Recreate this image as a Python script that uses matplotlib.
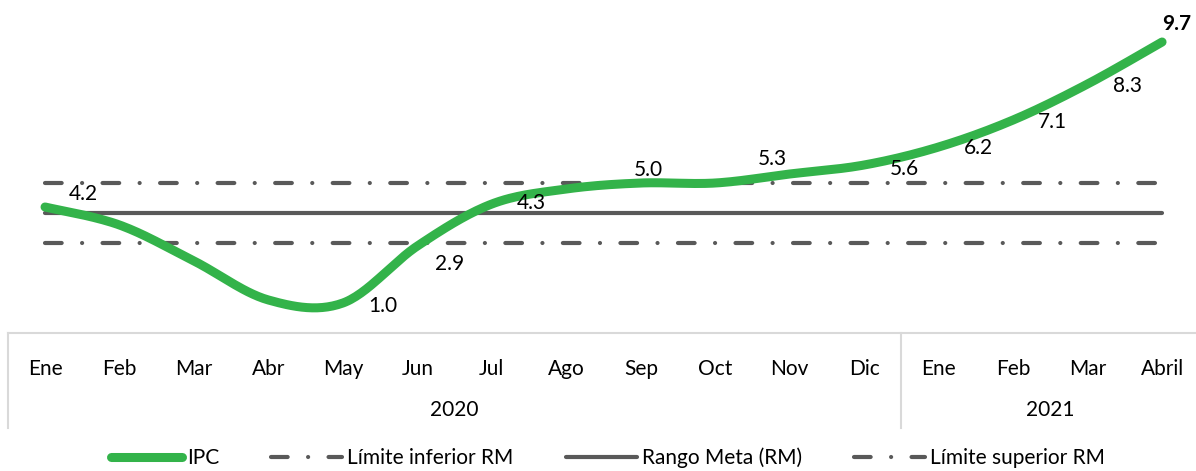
import numpy as np
import matplotlib
matplotlib.use("Agg")
import matplotlib.pyplot as plt
from matplotlib.lines import Line2D
from matplotlib.transforms import blended_transform_factory

plt.rcParams['font.family'] = ['Lato', 'DejaVu Sans']

months = ['Ene', 'Feb', 'Mar', 'Abr', 'May', 'Jun', 'Jul', 'Ago', 'Sep', 'Oct', 'Nov', 'Dic',
          'Ene', 'Feb', 'Mar', 'Abril']
years = ['2020', '2021']
year_counts = [12, 4]
ipc = [4.2, 3.6, 2.4, 1.1, 1.0, 2.9, 4.3, 4.8, 5.0, 5.0, 5.3, 5.6, 6.2, 7.1, 8.3, 9.7]
rango_meta = [4.0] * 16
lim_inf = [3.0] * 16
lim_sup = [5.0] * 16
label_idx = [0, 4, 5, 6, 8, 10, 11, 12, 13, 14, 15]
# label offsets in pixels (dx, dy up)
label_off = [(38, 13), (40, -3), (32, -18), (39, 1), (8, 13), (-17, 15), (40, -4),
             (40, -1), (39, -2), (40, -2), (15, 18)]

GREEN = '#33B34A'
GRAY = '#595959'
FS = 15

W, H = 1196, 471
fig = plt.figure(figsize=(W / 100, H / 100), dpi=100)
ax_left = 7.8 / W
ax_w = 1191.5 / W
ax_bottom = 1 - 333 / H
ax = fig.add_axes([ax_left, ax_bottom, ax_w, 1 - ax_bottom])
n = len(months)
x = np.arange(n)
ax.set_xlim(-0.5, n - 0.5)
ax.set_ylim(0, 11.1)


def smooth(xs, ys, steps=30):
    P = np.column_stack([xs, ys]).astype(float)
    P = np.vstack([P[0], P, P[-1]])
    out = []
    for i in range(1, len(P) - 2):
        p0, p1, p2, p3 = P[i - 1], P[i], P[i + 1], P[i + 2]
        c1 = p1 + (p2 - p0) / 6
        c2 = p2 - (p3 - p1) / 6
        t = np.linspace(0, 1, steps)[:, None]
        seg = ((1 - t) ** 3) * p1 + 3 * ((1 - t) ** 2) * t * c1 + 3 * (1 - t) * t ** 2 * c2 + t ** 3 * p2
        out.append(seg if i == 1 else seg[1:])
    return np.vstack(out)

dd = (0, (4, 4.9, 0.01, 4.9))
ax.plot(x, lim_sup, color=GRAY, lw=3, linestyle=dd, dash_capstyle='round', zorder=2)
ax.plot(x, lim_inf, color=GRAY, lw=3, linestyle=dd, dash_capstyle='round', zorder=2)
ax.plot(x, rango_meta, color=GRAY, lw=3, solid_capstyle='round', zorder=2)
s = smooth(x, ipc)
ax.plot(s[:, 0], s[:, 1], color=GREEN, lw=6.5, solid_capstyle='round', zorder=3)

for k, i in enumerate(label_idx):
    dx, dy = label_off[k]
    bold = (i == n - 1)
    ax.annotate(f"{ipc[i]:.1f}", (x[i], ipc[i]), xytext=(dx * 0.72, dy * 0.72),
                textcoords='offset points', ha='center', va='center', fontsize=FS,
                fontweight='bold' if bold else 'normal', color='black', zorder=4,
                annotation_clip=False)

for sp in ['top', 'left', 'right']:
    ax.spines[sp].set_visible(False)
ax.spines['bottom'].set_color('#D9D9D9')
ax.spines['bottom'].set_linewidth(1.5)
ax.set_yticks([])
ax.set_xticks(x)
ax.set_xticklabels(months, fontsize=FS)
ax.tick_params(axis='x', length=0, pad=19)

tr = blended_transform_factory(ax.transData, ax.transAxes)
sep_bottom = -(428 - 333) / 333
start = 0
bounds = [-0.5]
for cnt in year_counts:
    start += cnt
    bounds.append(start - 0.5)
for b in bounds[:-1]:
    ax.plot([b, b], [0, sep_bottom], transform=tr, color='#D9D9D9', lw=1.5, clip_on=False)
for j, yr in enumerate(years):
    cx = (bounds[j] + bounds[j + 1]) / 2
    ax.text(cx, -(410 - 333) / 333, yr, transform=tr, ha='center', va='center', fontsize=FS)

handles = [
    Line2D([], [], color=GREEN, lw=6.5, solid_capstyle='round'),
    Line2D([], [], color=GRAY, lw=3, linestyle=dd, dash_capstyle='round'),
    Line2D([], [], color=GRAY, lw=3, solid_capstyle='round'),
    Line2D([], [], color=GRAY, lw=3, linestyle=dd, dash_capstyle='round'),
]
labels = ['IPC', 'Límite inferior RM', 'Rango Meta (RM)', 'Límite superior RM']
fig.legend(handles, labels, loc='center', bbox_to_anchor=(608 / W, 1 - 458 / H), ncol=4,
           frameon=False, fontsize=FS, handlelength=3.4, handletextpad=0.25, columnspacing=2.5)

fig.savefig('out.png', dpi=100)
